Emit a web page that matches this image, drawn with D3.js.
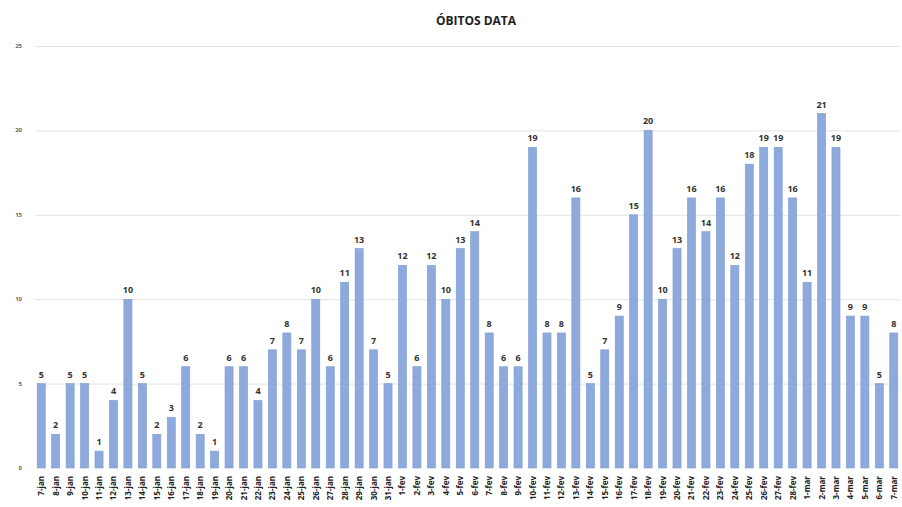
<!DOCTYPE html>
<html>
<head>
<meta charset="utf-8">
<script src="https://cdn.jsdelivr.net/npm/d3@7"></script>
<style>
  body { margin: 0; background: #fff; }
  svg { display: block; font-family: "Open Sans", "Liberation Sans", sans-serif; }
  .grid line { stroke: #e3e3e3; }
  .value { font-size: 9px; font-weight: bold; fill: #333; }
  .xlab { font-size: 8px; font-weight: bold; fill: #222; }
  .ylab { font-size: 6px; font-weight: bold; fill: #666; }
</style>
</head>
<body>
<svg id="chart" width="902" height="507"></svg>
<script>
// Daily deaths, 7-jan to 7-mar
var months = ['jan', 'fev', 'mar'];
var daysJan = [7,8,9,10,11,12,13,14,15,16,17,18,19,20,21,22,23,24,25,26,27,28,29,30,31];
var daysFev = [1,2,3,4,5,6,7,8,9,10,11,12,13,14,15,16,17,18,19,20,21,22,23,24,25,26,27,28];
var daysMar = [1,2,3,4,5,6,7];

var obitosJan = [5,2,5,5,1,4,10,5,2,3,6,2,1,6,6,4,7,8,7,10,6,11,13,7,5];
var obitosFev = [12,6,12,10,13,14,8,6,6,19,8,8,16,5,7,9,15,20,10,13,16,14,16,12,18,19,19,16];
var obitosMar = [11,21,19,9,9,5,8];

var yTicks = [0, 5, 10, 15, 20, 25];

var labels = []
  .concat(daysJan.map(function(d) { return d + '-' + months[0]; }))
  .concat(daysFev.map(function(d) { return d + '-' + months[1]; }))
  .concat(daysMar.map(function(d) { return d + '-' + months[2]; }));
var values = obitosJan.concat(obitosFev, obitosMar);

var data = labels.map(function(l, i) { return { label: l, value: values[i] }; });

var svg = d3.select('#chart');

var x = d3.scaleBand()
  .domain(labels)
  .range([34, 901])
  .paddingInner(0.44)
  .paddingOuter(0.22);

var y = d3.scaleLinear()
  .domain([0, 25])
  .range([468, 46]);

// gridlines
svg.append('g').attr('class', 'grid')
  .selectAll('line')
  .data(yTicks.slice(1))
  .enter().append('line')
  .attr('x1', 35).attr('x2', 900)
  .attr('y1', function(d) { return y(d) + 0.5; })
  .attr('y2', function(d) { return y(d) + 0.5; });

// y tick labels
svg.append('g')
  .selectAll('text')
  .data(yTicks)
  .enter().append('text')
  .attr('class', 'ylab')
  .attr('x', 22)
  .attr('y', function(d) { return y(d) + 2; })
  .attr('text-anchor', 'end')
  .text(function(d) { return d; });

// bars
svg.append('g')
  .selectAll('rect')
  .data(data)
  .enter().append('rect')
  .attr('x', function(d) { return x(d.label); })
  .attr('width', x.bandwidth())
  .attr('y', function(d) { return y(d.value); })
  .attr('height', function(d) { return y(0) - y(d.value); })
  .attr('fill', '#8eaadc')
  .attr('stroke', '#7f9bd3')
  .attr('stroke-width', 0.6);

// value labels
svg.append('g')
  .selectAll('text')
  .data(data)
  .enter().append('text')
  .attr('class', 'value')
  .attr('x', function(d) { return x(d.label) + x.bandwidth() / 2; })
  .attr('y', function(d) { return y(d.value) - 6; })
  .attr('text-anchor', 'middle')
  .text(function(d) { return d.value; });

// x labels, rotated
svg.append('g')
  .selectAll('text')
  .data(data)
  .enter().append('text')
  .attr('class', 'xlab')
  .attr('text-anchor', 'end')
  .attr('transform', function(d) {
    return 'translate(' + (x(d.label) + x.bandwidth() / 2 + 3) + ',476) rotate(-90)';
  })
  .text(function(d) { return d.label; });

// title
svg.append('text')
  .attr('x', 476)
  .attr('y', 25)
  .attr('text-anchor', 'middle')
  .style('font-size', '12px')
  .style('font-weight', 'bold')
  .style('fill', '#222')
  .text('ÓBITOS DATA');
</script>
</body>
</html>
